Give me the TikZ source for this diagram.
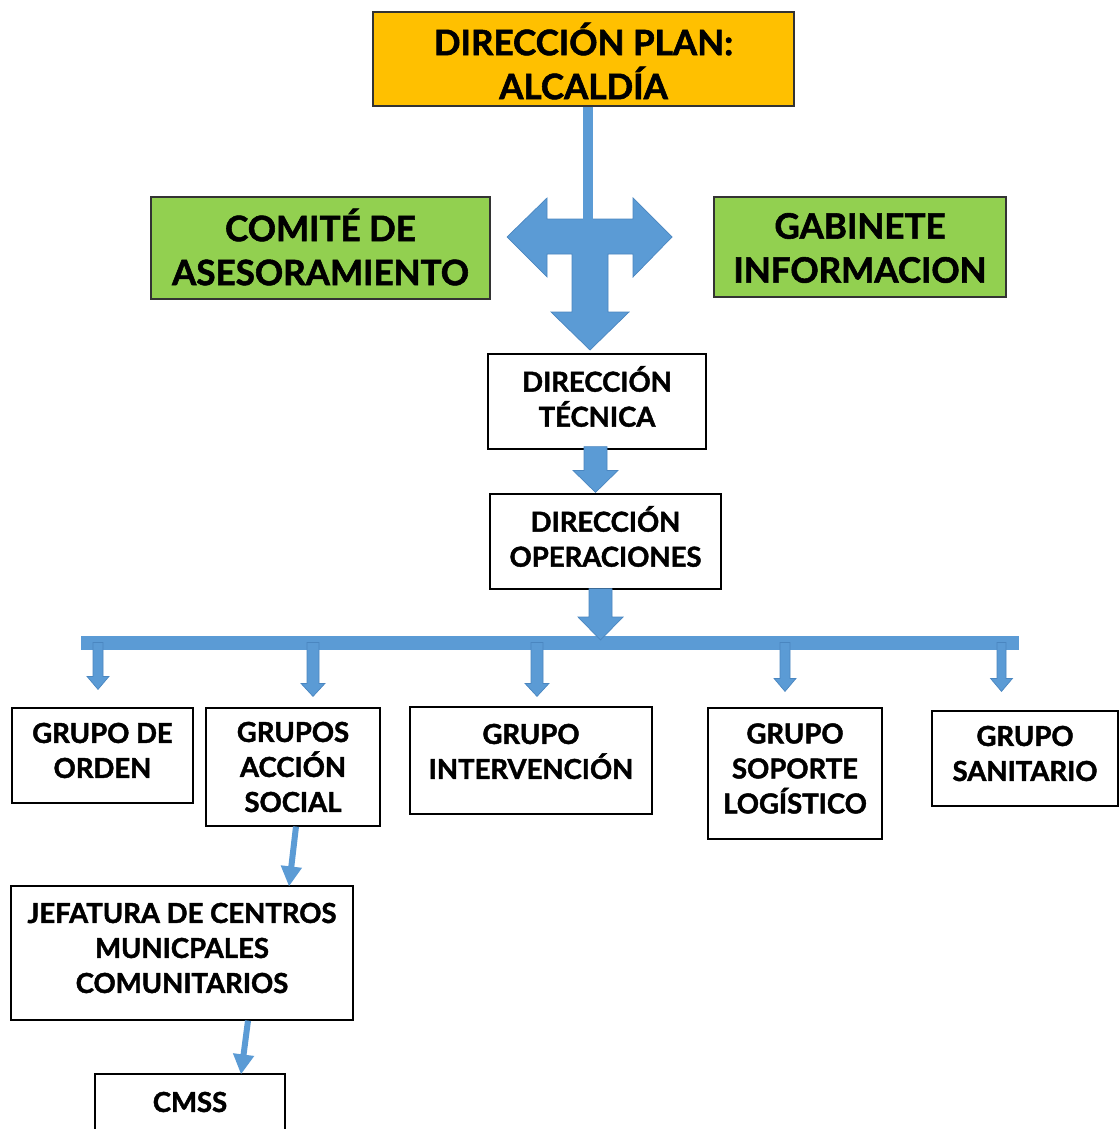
\documentclass[tikz,border=0pt]{standalone}
\usepackage{fontspec}
\setmainfont{Lato}[BoldFeatures={FakeBold=1.6}]
\usetikzlibrary{calc,arrows.meta}
\definecolor{arrowblue}{HTML}{5B9BD5}
\definecolor{arrowedge}{HTML}{4A86C0}
\definecolor{topfill}{HTML}{FFC000}
\definecolor{greenfill}{HTML}{92D050}
\newcommand\blockdown[5]{%
  \filldraw[arrowshape] let \p1=(#1), \p2=(#2) in
    (\x1-#3pt,\y1) -- (\x1+#3pt,\y1) -- (\x1+#3pt,\y2+#5pt) -- (\x1+#4pt,\y2+#5pt)
    -- (\x1,\y2) -- (\x1-#4pt,\y2+#5pt) -- (\x1-#3pt,\y2+#5pt) -- cycle;}
\begin{document}
\begin{tikzpicture}[x=1pt,y=-1pt,
  box/.style={draw=black, line width=1.2pt, fill=white, inner sep=0pt},
  bigbox/.style={draw=black!80, line width=1.2pt, inner sep=0pt},
  txt/.style={align=center, inner sep=0pt, font=\bfseries\fontsize{27.5}{35}\selectfont},
  bigtxt/.style={align=center, inner sep=0pt, font=\bfseries\fontsize{35}{44}\selectfont},
  arrowshape/.style={fill=arrowblue, draw=arrowedge, line width=0.7pt},
  slant/.style={draw=arrowblue, line width=6pt, -{Triangle[width=20pt,length=20pt]}}]
\useasboundingbox (0,0) rectangle (1119,1129);
\fill[white] (0,0) rectangle (1119,1129);

% top and side boxes
\node[bigbox, fill=topfill, minimum width=421, minimum height=94] (top) at (583.5,59) {};
\node[bigtxt] (topT) at ($(top)+(0,2)$) {DIRECCIÓN PLAN:\\ALCALDÍA};
\node[bigbox, fill=greenfill, minimum width=339, minimum height=102] (com) at (320.5,248) {};
\node[bigtxt] (comT) at ($(com)+(0,-1)$) {COMITÉ DE\\ASESORAMIENTO};
\node[bigbox, fill=greenfill, minimum width=292, minimum height=100] (gab) at (860,247) {};
\node[bigtxt] (gabT) at ($(gab)+(0,1)$) {GABINETE\\INFORMACION};

% directions
\node[box, minimum width=218, minimum height=95] (tec) at (597,401.5) {};
\node[txt] (tecT) at ($(tec)+(0,-5)$) {DIRECCIÓN\\TÉCNICA};
\node[box, minimum width=231, minimum height=95] (ope) at (605.5,541.5) {};
\node[txt] (opeT) at ($(ope)+(0,-5)$) {DIRECCIÓN\\OPERACIONES};

% groups
\node[box, minimum width=181, minimum height=95] (orden) at (102.5,755.5) {};
\node[txt] (ordenT) at ($(orden)+(0,-5)$) {GRUPO DE\\ORDEN};
\node[box, minimum width=174, minimum height=118] (social) at (293,767) {};
\node[txt] (socialT) at ($(social)+(0,0)$) {GRUPOS\\ACCIÓN\\SOCIAL};
\node[box, minimum width=242, minimum height=107] (interv) at (531,760.5) {};
\node[txt] (intervT) at ($(interv)+(0,-9)$) {GRUPO\\INTERVENCIÓN};
\node[box, minimum width=174, minimum height=131] (soporte) at (795,773.5) {};
\node[txt] (soporteT) at ($(soporte)+(0,-5)$) {GRUPO\\SOPORTE\\LOGÍSTICO};
\node[box, minimum width=186, minimum height=95] (sanit) at (1025,758.5) {};
\node[txt] (sanitT) at ($(sanit)+(0,-5)$) {GRUPO\\SANITARIO};
\node[box, minimum width=342, minimum height=134] (jef) at (182,953) {};
\node[txt] (jefT) at ($(jef)+(0,-5)$) {JEFATURA DE CENTROS\\MUNICPALES\\COMUNITARIOS};
\node[box, minimum width=190, minimum height=64] (cmss) at (190,1106) {};
\node[txt] (cmssT) at (190,1102) {CMSS};

% T-shaped arrow
\coordinate (tee) at (590,237);
\draw[arrowblue, line width=10pt] (top.south -| 588,0) -- (588,222);
\filldraw[arrowshape] (507,237) -- (547,198) -- (547,219) -- (633,219) -- (633,198) -- (672,237)
  -- (633,277) -- (633,254) -- (608,254) -- (608,312) -- (629,312) -- (590,350)
  -- (551,312) -- (572,312) -- (572,254) -- (547,254) -- (547,277) -- cycle;
\fill[arrowblue] (583.3,212) rectangle (592.7,226);

% arrows between directions
\blockdown{$(tec.south)+(-1.5,-3)$}{$(ope.north)+(-9.5,-1)$}{11.5}{22.5}{22}
\coordinate (barL) at (81,642.5);
\coordinate (barR) at (1019,642.5);
\draw[arrowblue, line width=14pt] (barL) -- (barR);
\blockdown{$(ope.south)+(-5,-1)$}{$(barL)+(0,-2.5)$}{11.5}{22.5}{23}

% arrows to groups
\blockdown{$(orden.north |- barL)+(-4.5,0)$}{$(orden.north)+(0,-18)$}{5}{11}{13}
\blockdown{$(social.north |- barL)+(20,0)$}{$(social.north)+(0,-11)$}{6}{12}{13}
\blockdown{$(interv.north |- barL)+(6,0)$}{$(interv.north)+(0,-10)$}{6}{12}{13}
\blockdown{$(soporte.north |- barL)+(-10,0)$}{$(soporte.north)+(0,-16)$}{5}{11}{13}
\blockdown{$(sanit.north |- barL)+(-23.5,0)$}{$(sanit.north)+(0,-19)$}{4.5}{11}{13}

% slanted arrows
\draw[slant] ($(social.south)+(3,0)$) -- ($(jef.north)+(107,1)$);
\draw[slant] ($(jef.south)+(66,0)$) -- ($(cmss.north)+(51,1)$);
\end{tikzpicture}
\end{document}
